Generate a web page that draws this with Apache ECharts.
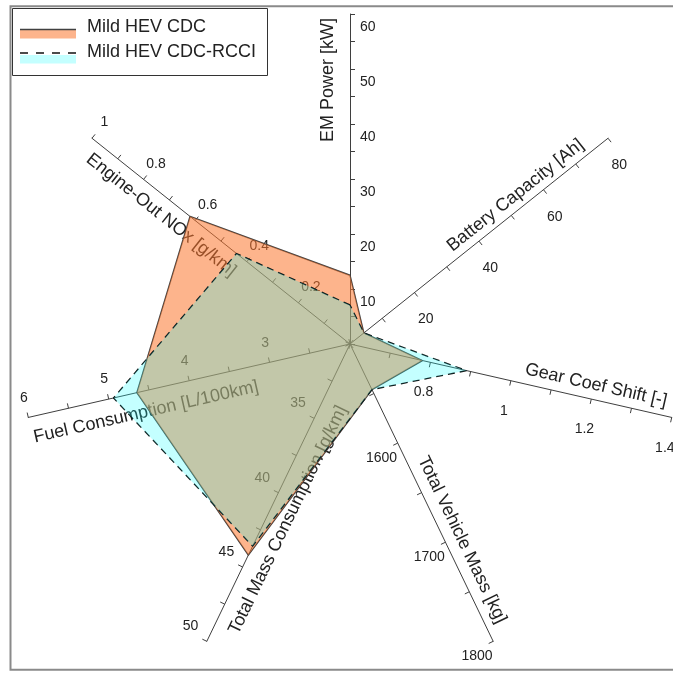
<!DOCTYPE html>
<html>
<head>
<meta charset="utf-8">
<script src="https://cdn.jsdelivr.net/npm/echarts@6/dist/echarts.min.js"></script>
<style>
  html, body { margin: 0; padding: 0; background: #fff; }
  #chart { width: 673px; height: 673px; }
</style>
</head>
<body>
<div id="chart"></div>
<script>
// Spider chart of two mild-hybrid configurations, one scaled axis per indicator.
const AXIS_NAMES = [
  'EM Power [kW]',
  'Engine-Out NOx [g/km]',
  'Fuel Consumption [L/100km]',
  'Total Mass Consumption [g/km]',
  'Total Vehicle Mass [kg]',
  'Gear Coef Shift [-]',
  'Battery Capacity [Ah]'
];
const AXIS_MIN  = [0, 0, 2, 30, 1500, 0.6, 0];
const AXIS_MAX  = [60, 1, 6, 50, 1800, 1.4, 80];
const AXIS_STEP = [10, 0.2, 1, 5, 100, 0.2, 20];

const SERIES_NAMES = ['Mild HEV CDC', 'Mild HEV CDC-RCCI'];
const CDC      = [12.5, 0.62, 4.65, 44.2, 1546, 0.78, 4.3];
const CDC_RCCI = [7.1, 0.44, 4.94, 43.6, 1546, 0.89, 4.3];

// ---- layout / style ----
const FONT = 'Liberation Sans, Arial, sans-serif';
const CENTER = [350, 344];
const RADIUS = 330;
const N = AXIS_NAMES.length;
const ANGLES = AXIS_NAMES.map((_, i) => (90 + i * 360 / N) % 360);

const ORANGE = 'rgb(251,119,46)', ORANGE_OP = 0.55;
const CYAN = 'rgb(20,255,255)', CYAN_OP = 0.25;
const AXIS_COLOR = '#3f3f3f';
const TEXT_COLOR = '#222';

// tick label placement per axis (labels sit on the clockwise side of each axis)
const LABEL_ALIGN  = ['left', 'center', 'center', 'center', 'center', 'center', 'center'];
const LABEL_VALIGN = ['top', 'middle', 'middle', 'bottom', 'top', 'middle', 'top'];
const LABEL_MARGIN = [10, 20, 20, 18, 18, 31, 18];
const LABEL_PAD    = [[6, 0, 0, 0], 0, 0, 0, 0, 0, [6, 0, 0, 0]];
// axis title: perpendicular distance and position along the axis (px from centre)
const NAME_DIST  = [22, 17, 21, 20.5, 16, 14.5, 13];
const NAME_ALONG = [264, 228, 214, 185.5, 225, 249, 222];

const fmtTick = v => String(+Number(v).toFixed(6));

const polar = [], angleAxis = [], radiusAxis = [];
ANGLES.forEach((a, i) => {
  polar.push({ center: CENTER, radius: [0, RADIUS] });
  angleAxis.push({ polarIndex: i, type: 'value', min: 0, max: 360, startAngle: a, show: false });
  const flipped = Math.cos(a * Math.PI / 180) < -1e-6;
  const shift = (NAME_ALONG[i] - RADIUS / 2) * 2;
  radiusAxis.push({
    polarIndex: i,
    type: 'value',
    min: AXIS_MIN[i],
    max: AXIS_MAX[i],
    interval: AXIS_STEP[i],
    z: 0,
    axisLine: { show: true, lineStyle: { color: AXIS_COLOR, width: 1 } },
    axisTick: { show: true, length: -5, lineStyle: { color: AXIS_COLOR, width: 1 } },
    minorTick: { show: true, splitNumber: 2, length: -5, lineStyle: { color: AXIS_COLOR, width: 1 } },
    splitLine: { show: false },
    minorSplitLine: { show: false },
    splitArea: { show: false },
    axisLabel: {
      show: true,
      showMinLabel: false,
      showMaxLabel: true,
      formatter: fmtTick,
      margin: -LABEL_MARGIN[i],
      align: LABEL_ALIGN[i],
      verticalAlign: LABEL_VALIGN[i],
      padding: LABEL_PAD[i],
      fontSize: 14,
      fontFamily: FONT,
      color: TEXT_COLOR,
      hideOverlap: false
    },
    name: AXIS_NAMES[i],
    nameLocation: 'middle',
    nameGap: -NAME_DIST[i],
    nameRotate: flipped ? a - 180 : null,
    nameMoveOverlap: false,
    nameTextStyle: {
      fontSize: 18,
      fontFamily: FONT,
      color: TEXT_COLOR,
      align: 'center',
      verticalAlign: 'middle',
      padding: flipped ? [0, shift, 0, 0] : [0, 0, 0, shift]
    }
  });
});

const option = {
  animation: false,
  backgroundColor: '#fff',
  textStyle: { fontFamily: FONT },
  radar: {
    center: CENTER,
    radius: RADIUS,
    startAngle: 90,
    silent: true,
    indicator: AXIS_NAMES.map((n, i) => ({ name: n, min: AXIS_MIN[i], max: AXIS_MAX[i] })),
    axisName: { show: false },
    axisLine: { show: false },
    axisTick: { show: false },
    axisLabel: { show: false },
    splitLine: { show: false },
    splitArea: { show: false }
  },
  polar: polar,
  angleAxis: angleAxis,
  radiusAxis: radiusAxis,
  series: [
    {
      type: 'radar',
      name: SERIES_NAMES[0],
      z: 5,
      symbol: 'none',
      silent: true,
      lineStyle: { color: '#404040', width: 1.4, type: 'solid' },
      areaStyle: { color: ORANGE, opacity: ORANGE_OP },
      data: [{ name: SERIES_NAMES[0], value: CDC }]
    },
    {
      type: 'radar',
      name: SERIES_NAMES[1],
      z: 6,
      symbol: 'none',
      silent: true,
      lineStyle: { color: '#111', width: 1.3, type: [7, 5] },
      areaStyle: { color: CYAN, opacity: CYAN_OP },
      data: [{ name: SERIES_NAMES[1], value: CDC_RCCI }]
    }
  ],
  graphic: [
    // outer frame
    { type: 'rect', z: 100, silent: true,
      shape: { x: 10.5, y: 6.3, width: 720, height: 663.5 },
      style: { fill: 'none', stroke: '#8a8a8a', lineWidth: 2 } },
    // legend box
    { type: 'rect', z: 101, silent: true,
      shape: { x: 12.5, y: 8.5, width: 255, height: 67 },
      style: { fill: '#fff', stroke: '#333', lineWidth: 1 } },
    { type: 'rect', z: 102, silent: true,
      shape: { x: 20, y: 29.5, width: 56, height: 9 },
      style: { fill: ORANGE, opacity: ORANGE_OP } },
    { type: 'line', z: 103, silent: true,
      shape: { x1: 20, y1: 29.5, x2: 76, y2: 29.5 },
      style: { stroke: '#404040', lineWidth: 1.5 } },
    { type: 'text', z: 103, silent: true, x: 87, y: 27,
      style: { text: SERIES_NAMES[0], font: '18px ' + FONT, fill: TEXT_COLOR, verticalAlign: 'middle' } },
    { type: 'rect', z: 102, silent: true,
      shape: { x: 20, y: 55, width: 56, height: 8.5 },
      style: { fill: CYAN, opacity: CYAN_OP } },
    { type: 'line', z: 103, silent: true,
      shape: { x1: 20, y1: 53, x2: 76, y2: 53 },
      style: { stroke: '#111', lineWidth: 1.5, lineDash: [8, 8] } },
    { type: 'text', z: 103, silent: true, x: 87, y: 52.5,
      style: { text: SERIES_NAMES[1], font: '18px ' + FONT, fill: TEXT_COLOR, verticalAlign: 'middle' } }
  ]
};

const chart = echarts.init(document.getElementById('chart'), null, { renderer: 'canvas' });
chart.setOption(option);
</script>
</body>
</html>
